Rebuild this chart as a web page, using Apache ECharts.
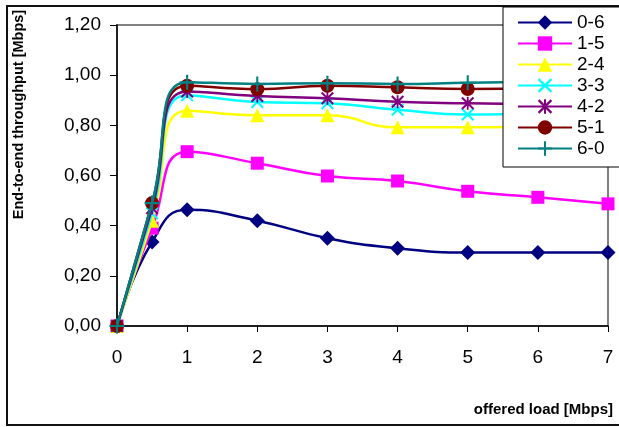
<!DOCTYPE html>
<html>
<head>
<meta charset="utf-8">
<script src="https://cdn.jsdelivr.net/npm/echarts@6/dist/echarts.min.js"></script>
<style>
html,body{margin:0;padding:0;background:#fff;}
#chart{width:619px;height:427px;}
</style>
</head>
<body>
<div id="chart"></div>
<script>
var xValues = [0, 0.5, 1, 2, 3, 4, 5, 6, 7];
var seriesNames = ['0-6', '1-5', '2-4', '3-3', '4-2', '5-1', '6-0'];
var s06 = [0, 0.335, 0.463, 0.42, 0.35, 0.31, 0.293, 0.293, 0.293];
var s15 = [0, 0.39, 0.695, 0.649, 0.598, 0.578, 0.537, 0.513, 0.487];
var s24 = [0, 0.42, 0.858, 0.84, 0.84, 0.792, 0.792, 0.795, 0.80];
var s33 = [0, 0.45, 0.92, 0.893, 0.888, 0.862, 0.843, 0.845, 0.845];
var s42 = [0, 0.47, 0.935, 0.917, 0.908, 0.894, 0.888, 0.884, 0.882];
var s51 = [0, 0.49, 0.958, 0.944, 0.958, 0.952, 0.945, 0.946, 0.946];
var s60 = [0, 0.49, 0.972, 0.965, 0.968, 0.965, 0.97, 0.973, 0.975];
var yTicks = [0, 0.2, 0.4, 0.6, 0.8, 1.0, 1.2];

var colors = ['#000080', '#FF00FF', '#FFFF00', '#00FFFF', '#800080', '#800000', '#008080'];
var X_PATH = 'path://M0,1.1L1.1,0L10,8.9L8.9,10ZM8.9,0L10,1.1L1.1,10L0,8.9Z';
var STAR_PATH = 'path://M0,1.1L1.1,0L10,8.9L8.9,10ZM8.9,0L10,1.1L1.1,10L0,8.9ZM4.3,0L5.7,0L5.7,10L4.3,10Z';
var PLUS_PATH = 'path://M4.3,0H5.7V4.3H10V5.7H5.7V10H4.3V5.7H0V4.3H4.3Z';
var symbols = ['diamond', 'rect', 'triangle', X_PATH, STAR_PATH, 'circle', PLUS_PATH];
var sizes = [15, 13, 14, 13, 13, 14, 15];
var allData = [s06, s15, s24, s33, s42, s51, s60];

function pairs(arr) {
  return arr.map(function (v, i) { return [xValues[i], v]; });
}

var series = seriesNames.map(function (name, i) {
  return {
    name: name,
    type: 'line',
    data: pairs(allData[i]),
    smooth: 0.5,
    symbol: symbols[i],
    symbolSize: sizes[i],
    showAllSymbol: true,
    lineStyle: { color: colors[i], width: 2.5 },
    itemStyle: { color: colors[i], borderWidth: 0 },
    emphasis: { disabled: true },
    z: 2 + i
  };
});

var chart = echarts.init(document.getElementById('chart'), null, { renderer: 'canvas' });
chart.setOption({
  animation: false,
  backgroundColor: '#fff',
  textStyle: { fontFamily: 'Liberation Sans, Arial, sans-serif' },
  graphic: [{
    type: 'rect',
    shape: { x: 7, y: 6, width: 640, height: 419 },
    style: { fill: 'none', stroke: '#111', lineWidth: 2 },
    z: -1,
    silent: true
  }],
  grid: {
    left: 117, right: 11, top: 25, bottom: 101,
    show: true, borderColor: '#808080', borderWidth: 2, backgroundColor: 'transparent'
  },
  legend: {
    data: seriesNames,
    orient: 'vertical',
    left: 503, top: 7,
    padding: [6, 30, 9, 14],
    itemGap: 2,
    itemWidth: 54,
    itemHeight: 18,
    backgroundColor: '#fff',
    borderColor: '#000',
    borderWidth: 1,
    borderRadius: 0,
    textStyle: { fontSize: 19, color: '#000', fontFamily: 'Liberation Sans, Arial, sans-serif' },
    z: 20
  },
  xAxis: {
    type: 'value',
    min: 0, max: 7, interval: 1,
    name: 'offered load [Mbps]',
    nameLocation: 'end',
    nameGap: 5,
    nameTextStyle: {
      fontSize: 15, fontWeight: 'bold', color: '#000', align: 'right', verticalAlign: 'top',
      padding: [76, 0, 0, 0]
    },
    axisLine: { lineStyle: { color: '#000', width: 1.5 } },
    axisTick: { show: true, length: 6, lineStyle: { color: '#000' } },
    axisLabel: { fontSize: 19, color: '#000', margin: 22 },
    splitLine: { show: false }
  },
  yAxis: {
    type: 'value',
    min: 0, max: 1.2, interval: 0.2,
    name: 'End-to-end throughput [Mbps]',
    nameLocation: 'middle',
    nameGap: 91,
    nameRotate: 90,
    nameTextStyle: {
      fontSize: 14.5, fontWeight: 'bold', color: '#000',
      padding: [0, 0, 0, 122]
    },
    axisLine: { show: true, lineStyle: { color: '#000', width: 1.5 } },
    axisTick: { show: true, length: 7, lineStyle: { color: '#000' } },
    axisLabel: {
      fontSize: 19, color: '#000', margin: 16,
      formatter: function (v) { return v.toFixed(2).replace('.', ','); }
    },
    splitLine: { show: false }
  },
  series: series
});
</script>
</body>
</html>
